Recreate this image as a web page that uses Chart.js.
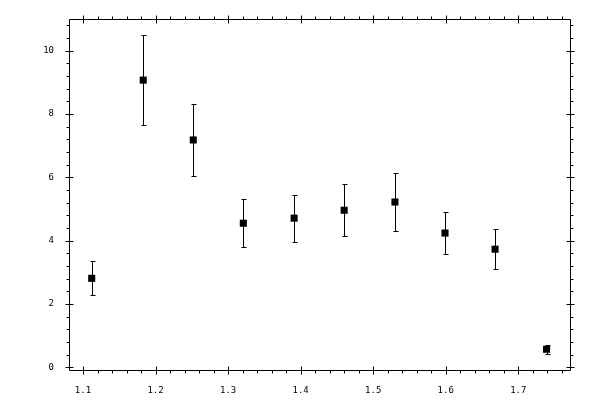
<!DOCTYPE html>
<html>
<head>
<meta charset="utf-8">
<title>Error bar chart</title>
<script src="https://cdn.jsdelivr.net/npm/chart.js@4.4.0/dist/chart.umd.min.js"></script>
<style>
  html, body { margin: 0; padding: 0; background: #fff; }
  canvas { display: block; }
</style>
</head>
<body>
<canvas id="chart" width="600" height="400"></canvas>
<script>
    "use strict";

    // Data
    var xValues = [1.112, 1.183, 1.252, 1.321, 1.391, 1.460, 1.530, 1.599, 1.668, 1.739];
    var yValues = [2.81, 9.07, 7.18, 4.55, 4.71, 4.96, 5.22, 4.24, 3.73, 0.57];
    var yErrors = [0.54, 1.43, 1.13, 0.76, 0.74, 0.82, 0.91, 0.65, 0.63, 0.15];

    // Tick labels
    var xTicks = [1.1, 1.2, 1.3, 1.4, 1.5, 1.6, 1.7];
    var yTicks = [0, 2, 4, 6, 8, 10];
    var xMinorStep = 0.02;
    var yMinorStep = 0.4;

    var points = xValues.map(function (x, i) {
        return {x: x, y: yValues[i]};
    });

    // Error bars
    var errorBars = {
        id: 'errorBars',
        afterDatasetsDraw: function (chart) {
            var ctx = chart.ctx;
            var xs = chart.scales.x, ys = chart.scales.y;
            ctx.save();
            ctx.strokeStyle = '#000';
            ctx.lineWidth = 1;
            xValues.forEach(function (x, i) {
                var px = Math.round(xs.getPixelForValue(x)) + 0.5;
                var top = Math.round(ys.getPixelForValue(yValues[i] + yErrors[i])) + 0.5;
                var bot = Math.round(ys.getPixelForValue(yValues[i] - yErrors[i])) + 0.5;
                ctx.beginPath();
                ctx.moveTo(px, top); ctx.lineTo(px, bot);
                ctx.moveTo(px - 2, top); ctx.lineTo(px + 3, top);
                ctx.moveTo(px - 2, bot); ctx.lineTo(px + 3, bot);
                ctx.stroke();
            });
            ctx.restore();
        }
    };

    // Frame with ticks on all four sides
    var frame = {
        id: 'frame',
        afterDraw: function (chart) {
            var ctx = chart.ctx;
            var a = chart.chartArea;
            var xs = chart.scales.x, ys = chart.scales.y;
            var l = Math.round(a.left) + 0.5, r = Math.round(a.right) + 0.5;
            var t = Math.round(a.top) + 0.5, b = Math.round(a.bottom) + 0.5;
            ctx.save();
            ctx.strokeStyle = '#000';
            ctx.lineWidth = 1;
            ctx.beginPath();
            ctx.rect(l, t, r - l, b - t);

            var p, k;
            // x minor ticks
            for (k = Math.ceil(xs.min / xMinorStep); k * xMinorStep <= xs.max; k++) {
                p = Math.round(xs.getPixelForValue(k * xMinorStep)) + 0.5;
                ctx.moveTo(p, b); ctx.lineTo(p, b + 3);
                ctx.moveTo(p, t); ctx.lineTo(p, t - 3);
            }
            // y minor ticks
            for (k = Math.ceil(ys.min / yMinorStep); k * yMinorStep <= ys.max; k++) {
                p = Math.round(ys.getPixelForValue(k * yMinorStep)) + 0.5;
                ctx.moveTo(l, p); ctx.lineTo(l - 3, p);
                ctx.moveTo(r, p); ctx.lineTo(r + 3, p);
            }
            // major ticks
            xTicks.forEach(function (v) {
                p = Math.round(xs.getPixelForValue(v)) + 0.5;
                ctx.moveTo(p, b - 4); ctx.lineTo(p, b + 4);
                ctx.moveTo(p, t - 4); ctx.lineTo(p, t + 4);
            });
            yTicks.forEach(function (v) {
                p = Math.round(ys.getPixelForValue(v)) + 0.5;
                ctx.moveTo(l - 4, p); ctx.lineTo(l + 4, p);
                ctx.moveTo(r - 4, p); ctx.lineTo(r + 4, p);
            });
            ctx.stroke();
            ctx.restore();
        }
    };

    var ctx1 = document.getElementById('chart').getContext('2d');
    var myChart1 = new Chart(ctx1, {
        type: 'scatter',
        data: {
            datasets: [{
                data: points,
                pointStyle: 'rect',
                pointRadius: 5,
                pointHoverRadius: 5,
                backgroundColor: '#000',
                borderColor: '#000',
                borderWidth: 0
            }]
        },
        options: {
            responsive: false,
            animation: false,
            devicePixelRatio: 1,
            layout: {padding: {top: 19, right: 30, left: 0, bottom: 0}},
            plugins: {legend: {display: false}, tooltip: {enabled: false}},
            scales: {
                x: {
                    type: 'linear',
                    min: 1.0807,
                    max: 1.7713,
                    grid: {display: false},
                    border: {display: false},
                    afterBuildTicks: function (scale) {
                        scale.ticks = xTicks.map(function (v) { return {value: v}; });
                    },
                    afterFit: function (scale) { scale.height = 30; },
                    ticks: {
                        autoSkip: false,
                        maxRotation: 0,
                        padding: 7,
                        color: '#000',
                        font: {family: 'DejaVu Sans Mono', size: 9},
                        callback: function (v) { return v.toFixed(1); }
                    }
                },
                y: {
                    type: 'linear',
                    min: -0.085,
                    max: 11.0,
                    grid: {display: false},
                    border: {display: false},
                    afterBuildTicks: function (scale) {
                        scale.ticks = yTicks.map(function (v) { return {value: v}; });
                    },
                    afterFit: function (scale) { scale.width = 69; },
                    ticks: {
                        autoSkip: false,
                        padding: 7,
                        color: '#000',
                        font: {family: 'DejaVu Sans Mono', size: 9},
                        callback: function (v) { return String(v); }
                    }
                }
            }
        },
        plugins: [errorBars, frame]
    });
</script>
</body>
</html>
